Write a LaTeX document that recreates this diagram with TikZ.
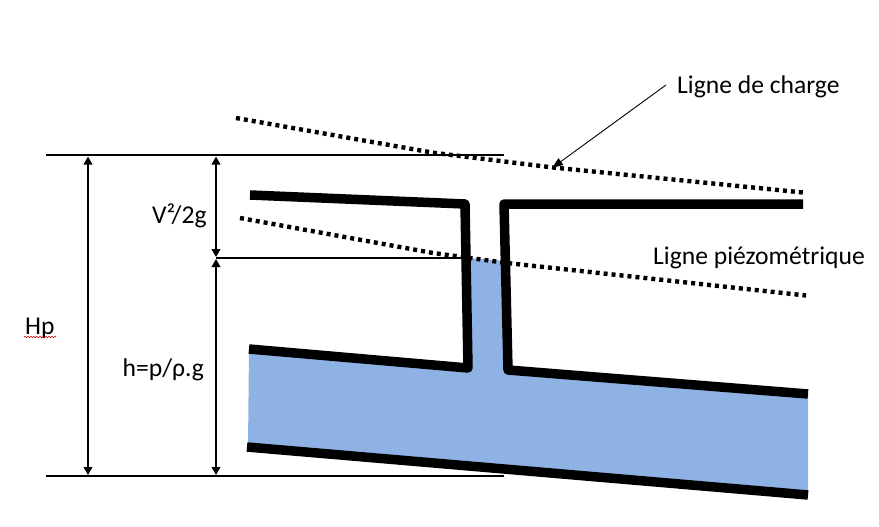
\documentclass[tikz,border=0pt]{standalone}
\usepackage{fontspec}
\setmainfont{Carlito}
\usetikzlibrary{arrows.meta,decorations.pathmorphing}
\tikzset{
  x=1pt,y=-1pt,
  wall/.style={line width=9.5pt,line join=round,draw=black},
  dotline/.style={line width=4.4pt,draw=black,dash pattern=on 4pt off 4pt},
  thin line/.style={line width=2pt,draw=black},
  dim/.style={line width=2pt,draw=black,{Triangle[length=8pt,width=8.5pt]}-{Triangle[length=8pt,width=8.5pt]}},
  lab/.style={font=\fontsize{25.6}{28}\selectfont,inner sep=0pt,text=black,anchor=base west},
}
\definecolor{water}{RGB}{142,178,227}
\begin{document}
\begin{tikzpicture}
\useasboundingbox (0,0) rectangle (879,527);
\fill[water] (249,349) -- (470,368) -- (470,258) -- (505,261) -- (508,370) -- (808,394) -- (808,495) -- (248,447) -- cycle;
\coordinate (t1) at (46,155); \coordinate (t2) at (504,155);
\coordinate (m1) at (216,258); \coordinate (m2) at (466,258);
\coordinate (b1) at (46,476); \coordinate (b2) at (504,476);
\coordinate (a1) at (88,156.5); \coordinate (a2) at (88,475);
\coordinate (c1) at (216,156.5); \coordinate (c2) at (216,257);
\coordinate (c2b) at (216,259); \coordinate (c3) at (216,475);
\draw[thin line] (t1) -- (t2);
\draw[thin line] (m1) -- (m2);
\draw[thin line] (b1) -- (b2);
\draw[dim] (a1) -- (a2);
\draw[dim] (c1) -- (c2);
\draw[dim] (c2b) -- (c3);
\draw[dotline] (236,118) -- (433,152.7) -- (553,167.5) -- (803,192.5);
\draw[dotline] (240,218) -- (433,253) -- (507,263) -- (806,295.5);
\draw[wall] (250,195) -- (465,204) -- (468,368) -- (249,349);
\draw[wall] (803,204) -- (504,204) -- (508,370) -- (808,394);
\draw[wall] (247,447) -- (808,495);
\coordinate (l1) at (666,85); \coordinate (l2) at (552,168);
\draw[line width=0.9pt,-{Triangle[length=11pt,width=8pt]}] (l1) -- (l2);
\node[lab] (lc) at (677,93) {Ligne de charge};
\node[lab] (lp) at (653,264) {Ligne piézométrique};
\node[lab] (v) at (152,223) {V²/2g};
\node[lab] (hp) at (25,334) {Hp};
\node[lab] (h) at (122.5,376) {h=p/ρ.g};
\draw[red!80!black,line width=0.6pt,decorate,decoration={snake,amplitude=0.7pt,segment length=3pt}] (24,337) -- (56,337);
\end{tikzpicture}
\end{document}
